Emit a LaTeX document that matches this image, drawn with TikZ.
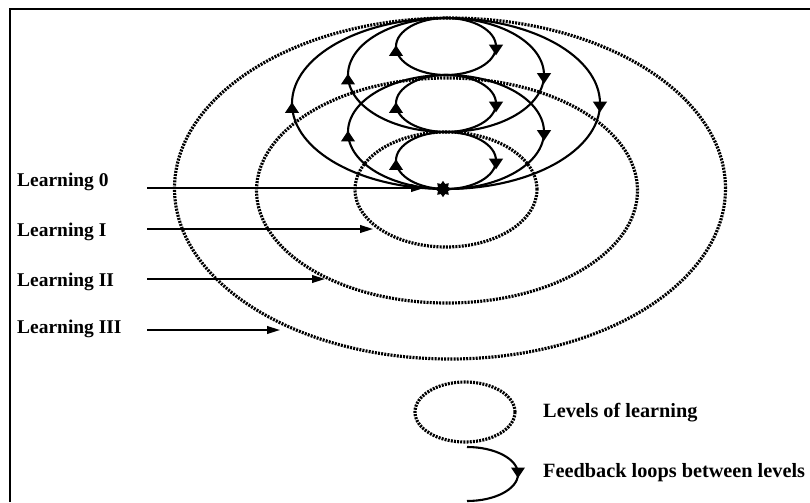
\documentclass[tikz,border=0pt]{standalone}
\usepackage{fontspec}
\setmainfont{Liberation Serif}
\usetikzlibrary{arrows.meta,decorations.markings,shapes.geometric}

% arrow head on a loop, drawn along the path, shifted by #1
\newcommand{\fbhead}[1]{\fill (#1+4.5pt,0pt) -- (#1-4.5pt,6pt) -- (#1-4.5pt,-6pt) -- cycle;}

\tikzset{
  level/.style={line width=2.7pt, dash pattern=on 1.7pt off 1.0pt},
  fbloop/.style={line width=1.8pt, postaction={decorate},
    decoration={markings,
      mark=at position 0.25 with {\fbhead{3pt}},
      mark=at position 0.75 with {\fbhead{-3.5pt}}}},
  lbl/.style={anchor=base west, inner sep=0pt, font=\fontsize{16.6}{18}\selectfont\bfseries},
  key/.style={lbl, font=\fontsize{17.3}{19}\selectfont\bfseries},
  lvlarrow/.style={line width=1.4pt, -{Triangle[length=11pt,width=6.5pt]}},
}

\begin{document}
\begin{tikzpicture}[x=0.03cm, y=0.03cm]
    \useasboundingbox (0,0) rectangle (810,-502);
    % frame
    \draw[line width=1.6pt] (10,-502) -- (10,-9) -- (810,-9);
    % levels of learning
    \draw[level] (446,-189.5) ellipse[x radius=91, y radius=57.5];
    \draw[level] (447,-190.5) ellipse[x radius=190.5, y radius=112.5];
    \draw[level] (450,-188.5) ellipse[x radius=275.5, y radius=170.5];
    % feedback loops
    \foreach \cy in {46.5,103.5,160.5}
      \draw[fbloop] (446,-\cy+28.5) arc[start angle=90, end angle=-270, x radius=50, y radius=28.5];
    \foreach \cy in {75,132}
      \draw[fbloop] (446,-\cy+57) arc[start angle=90, end angle=-270, x radius=98, y radius=57];
    \draw[fbloop] (446,-18) arc[start angle=90, end angle=-270, x radius=154, y radius=85.5];
    \node[star, star points=8, star point ratio=1.5, fill, inner sep=0pt, minimum size=14pt] (core) at (443,-189) {};
    % labels
    \node[lbl] (l0) at (17,-186) {Learning 0};
    \node[lbl] (l1) at (17,-236) {Learning I};
    \node[lbl] (l2) at (17,-286) {Learning II};
    \node[lbl] (l3) at (17,-333) {Learning III};
    \coordinate (s0) at (147,-188); \coordinate (t0) at (424,-188);
    \coordinate (s1) at (147,-229); \coordinate (t1) at (373,-229);
    \coordinate (s2) at (147,-279); \coordinate (t2) at (325,-279);
    \coordinate (s3) at (147,-330); \coordinate (t3) at (280,-330);
    \foreach \i in {0,...,3} \draw[lvlarrow] (s\i) -- (t\i);
    % legend
    \draw[level] (465,-412) ellipse[x radius=50, y radius=30];
    \draw[line width=1.8pt, postaction={decorate}, decoration={markings,
      mark=at position 0.5 with {\fbhead{-1pt}}}]
      (467,-447) arc[start angle=90, end angle=-90, x radius=51, y radius=27];
    \node[key] (k1) at (543,-417) {Levels of learning};
    \node[key] (k2) at (543,-477) {Feedback loops between levels};
\end{tikzpicture}
\end{document}
